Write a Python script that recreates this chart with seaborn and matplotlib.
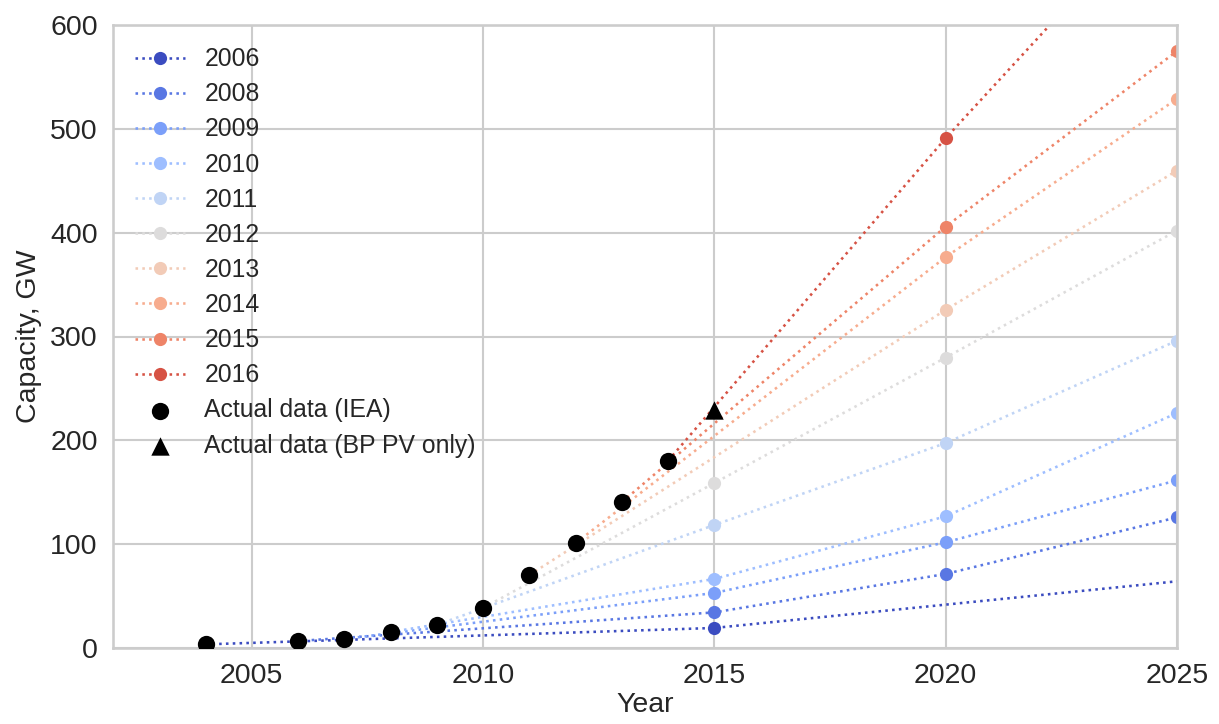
import matplotlib
matplotlib.use("Agg")
import matplotlib.pyplot as plt
import seaborn as sns
import pandas as pd
import numpy as np

# ---- data ----
actual_years = [2004, 2006, 2007, 2008, 2009, 2010, 2011, 2012, 2013, 2014]
actual_cap = [3.5, 6.7, 8.7, 15.4, 22.3, 38.6, 70.3, 101.0, 140.5, 180.4]

bp_years = [2015]
bp_cap = [229.0]

proj_labels = ["2006", "2008", "2009", "2010", "2011", "2012", "2013", "2014", "2015", "2016"]
proj_years = [
    [2004, 2015, 2030],
    [2006, 2015, 2020, 2025],
    [2007, 2015, 2020, 2025],
    [2008, 2015, 2020, 2025],
    [2009, 2015, 2020, 2025],
    [2010, 2015, 2020, 2025],
    [2011, 2020, 2025],
    [2012, 2020, 2025],
    [2013, 2020, 2025],
    [2014, 2020, 2025],
]
proj_values = [
    [3.5, 19.3, 86.7],
    [6.7, 34.3, 71.3, 125.8],
    [8.7, 53.0, 101.8, 161.5],
    [15.4, 66.5, 126.8, 226.3],
    [22.3, 118.5, 197.4, 296.0],
    [38.6, 158.9, 279.7, 402.0],
    [70.3, 325.7, 459.8],
    [101.0, 376.5, 528.9],
    [140.5, 405.8, 574.9],
    [180.4, 491.0, 733.0],
]

x_ticks = [2005, 2010, 2015, 2020, 2025]
y_ticks = [0, 100, 200, 300, 400, 500, 600]

# ---- style ----
sns.set_theme(style="whitegrid", context="talk")
plt.rcParams["font.family"] = ["Liberation Sans", "DejaVu Sans"]

fig = plt.figure(figsize=(12.19, 7.24), dpi=100)
ax = fig.add_axes([113 / 1219, 1 - 648 / 724, (1177 - 113) / 1219, (648 - 25) / 724])

# coolwarm sampled at 0, 0.1, ..., 0.9
cmap = sns.color_palette("coolwarm", as_cmap=True)
palette = [cmap(v) for v in np.arange(len(proj_labels)) / 10.0]

for lab, yrs, vals, col in zip(proj_labels, proj_years, proj_values, palette):
    df = pd.DataFrame({"Year": yrs, "Capacity": vals})
    sns.lineplot(data=df, x="Year", y="Capacity", ax=ax, color=col, label=lab,
                 linestyle=":", linewidth=1.85, marker="o", markersize=9.5,
                 markeredgewidth=0, zorder=2)

df_a = pd.DataFrame({"Year": actual_years, "Capacity": actual_cap})
sns.scatterplot(data=df_a, x="Year", y="Capacity", ax=ax, color="black", s=155,
                edgecolor="black", linewidth=0, marker="o",
                label="Actual data (IEA)", zorder=4)
df_b = pd.DataFrame({"Year": bp_years, "Capacity": bp_cap})
sns.scatterplot(data=df_b, x="Year", y="Capacity", ax=ax, color="black", s=175,
                edgecolor="black", linewidth=0, marker="^",
                label="Actual data (BP PV only)", zorder=4)

ax.set_xlim(2002, 2025)
ax.set_ylim(0, 600)
ax.set_xticks(x_ticks)
ax.set_yticks(y_ticks)
ax.tick_params(axis="both", labelsize=20.5, colors=".15", length=0, pad=11)
ax.set_xlabel("Year", fontsize=20.5, color=".15", labelpad=2)
ax.set_ylabel("Capacity, GW", fontsize=20.5, color=".15", labelpad=6)
for s in ax.spines.values():
    s.set_color(".8")

ax.legend(loc="upper left", frameon=False, fontsize=17.8, handlelength=2.0,
          labelspacing=0.45, borderaxespad=0.5, handletextpad=0.8)

fig.savefig("out.png", dpi=100)
